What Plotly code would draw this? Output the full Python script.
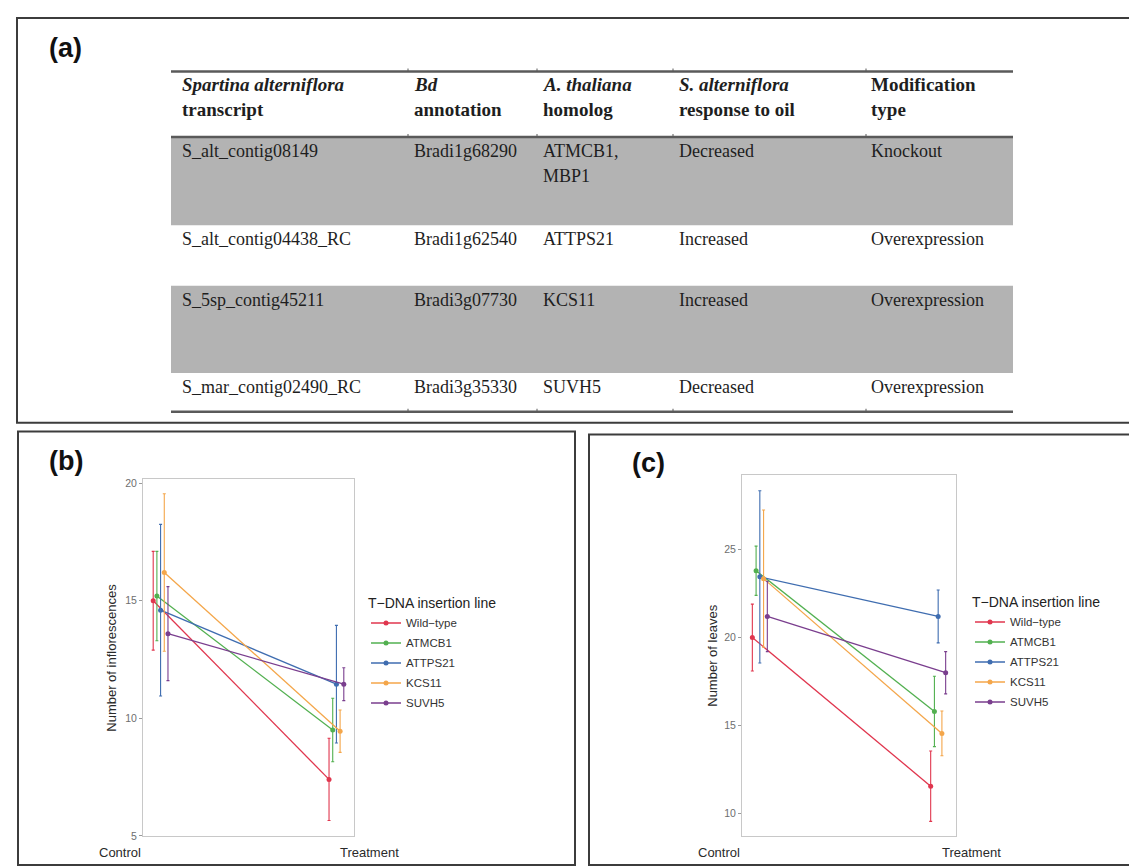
import plotly.graph_objects as go

W, H = 1137, 868


def px(x):
    return x / W


def py(y):
    return 1 - y / H


# ---------------- data ----------------
lines = ["Wild\u2212type", "ATMCB1", "ATTPS21", "KCS11", "SUVH5"]
colors = ["#E0364E", "#52B050", "#3F6DB0", "#F4A64A", "#7A3E8E"]
conditions = ["Control", "Treatment"]
cond_pos = [1, 2]

infl_control = [15.0, 15.2, 14.6, 16.2, 13.6]
infl_control_err = [2.1, 1.9, 3.65, 3.35, 2.0]
infl_treat = [7.4, 9.5, 11.45, 9.45, 11.45]
infl_treat_err = [1.75, 1.35, 2.5, 0.9, 0.7]

leaves_control = [20.0, 23.8, 23.45, 23.35, 21.2]
leaves_control_err = [1.9, 1.4, 4.9, 3.9, 2.0]
leaves_treat = [11.55, 15.8, 21.2, 14.55, 18.0]
leaves_treat_err = [2.0, 2.0, 1.5, 1.27, 1.2]

infl_ticks = [5, 10, 15, 20]
leaves_ticks = [10, 15, 20, 25]

tbl_header_1 = ["<i>Spartina alterniflora</i>", "<i>Bd</i>", "<i>A. thaliana</i>",
                "<i>S. alterniflora</i>", "Modification"]
tbl_header_2 = ["transcript", "annotation", "homolog", "response to oil", "type"]
tbl_transcript = ["S_alt_contig08149", "S_alt_contig04438_RC",
                  "S_5sp_contig45211", "S_mar_contig02490_RC"]
tbl_bd = ["Bradi1g68290", "Bradi1g62540", "Bradi3g07730", "Bradi3g35330"]
tbl_homolog = ["ATMCB1,\nMBP1", "ATTPS21", "KCS11", "SUVH5"]
tbl_response = ["Decreased", "Increased", "Increased", "Decreased"]
tbl_modification = ["Knockout", "Overexpression", "Overexpression", "Overexpression"]

# ---------------- layout geometry ----------------
DODGE = 0.021
panel_b = dict(x0=135, x1=346, y0=473, y1=833)
panel_c = dict(x0=734, x1=948, y0=469, y1=833)

fig = go.Figure()


def add_panel(ctrl, ctrl_err, trt, trt_err, xa, ya, legend):
    for i, name in enumerate(lines):
        off = (i - 2) * DODGE
        fig.add_trace(go.Scatter(
            x=[cond_pos[0] + off, cond_pos[1] + off],
            y=[ctrl[i], trt[i]],
            error_y=dict(type="data", array=[ctrl_err[i], trt_err[i]],
                         visible=True, thickness=1.1, width=1.5, color=colors[i]),
            mode="lines+markers",
            line=dict(color=colors[i], width=1.3),
            marker=dict(color=colors[i], size=5),
            name=name,
            xaxis=xa, yaxis=ya,
            legend=legend,
            legendgroup=legend + name,
            showlegend=True,
        ))


add_panel(infl_control, infl_control_err, infl_treat, infl_treat_err, "x", "y", "legend")
add_panel(leaves_control, leaves_control_err, leaves_treat, leaves_treat_err, "x2", "y2", "legend2")

axis_common = dict(showgrid=False, zeroline=False, showline=True, mirror=True,
                   linecolor="#c8c8c8", linewidth=1)
tickfont = dict(family="Liberation Sans, Arial", size=10.5, color="#6e6e6e")
leg_title_font = dict(family="Liberation Sans, Arial", size=14, color="#222")
leg_font = dict(family="Liberation Sans, Arial", size=11.5, color="#333")

fig.update_layout(
    width=W, height=H, autosize=False,
    margin=dict(l=0, r=0, t=0, b=0),
    paper_bgcolor="white", plot_bgcolor="white",
    xaxis=dict(domain=[px(panel_b["x0"]), px(panel_b["x1"])], range=[0.9, 2.1],
               showticklabels=False, ticks="", **axis_common),
    yaxis=dict(domain=[py(panel_b["y1"]), py(panel_b["y0"])], range=[4.98, 20.17],
               tickvals=infl_ticks, ticks="outside", ticklen=3, tickcolor="#9a9a9a",
               tickfont=tickfont, **axis_common),
    xaxis2=dict(domain=[px(panel_c["x0"]), px(panel_c["x1"])], range=[0.9, 2.1],
                showticklabels=False, ticks="", anchor="y2", **axis_common),
    yaxis2=dict(domain=[py(panel_c["y1"]), py(panel_c["y0"])], range=[8.7, 29.23],
                tickvals=leaves_ticks, ticks="outside", ticklen=3, tickcolor="#9a9a9a",
                tickfont=tickfont, anchor="x2", **axis_common),
    legend=dict(x=px(358), y=py(585), xanchor="left", yanchor="top",
                title=dict(text="T\u2212DNA insertion line", font=leg_title_font),
                font=leg_font, bgcolor="rgba(0,0,0,0)", tracegroupgap=1, itemwidth=30),
    legend2=dict(x=px(962), y=py(584), xanchor="left", yanchor="top",
                 title=dict(text="T\u2212DNA insertion line", font=leg_title_font),
                 font=leg_font, bgcolor="rgba(0,0,0,0)", tracegroupgap=1, itemwidth=30),
)

shapes = []
annotations = []

# panel borders
for (x0, y0, x1, y1) in [(9, 8, 1133, 416), (10, 425, 567, 862), (581, 428, 1135, 862)]:
    shapes.append(dict(type="rect", xref="paper", yref="paper",
                       x0=px(x0), x1=px(x1), y0=py(y1), y1=py(y0),
                       line=dict(color="#3c3c3c", width=2), fillcolor="rgba(0,0,0,0)"))

# panel letters
for txt, x, y in [("(a)", 57, 38), ("(b)", 58, 455), ("(c)", 640, 457)]:
    annotations.append(dict(text="<b>%s</b>" % txt, x=px(x), y=py(y), xref="paper", yref="paper",
                            showarrow=False, xanchor="center", yanchor="middle",
                            font=dict(family="Liberation Sans, Arial", size=27, color="#111")))

# ---------------- table ----------------
T_LEFT, T_RIGHT = 163, 1005
col_edges = [163, 400, 529, 665, 858, 1005]
col_text_x = [172, 404, 533, 669, 861]
row_tops = [128, 217, 278, 366]
row_bottoms = [217, 278, 366, 405]
row_fill = ["#b3b3b3", "white", "#b3b3b3", "white"]
serif = "Liberation Serif, Times New Roman, serif"

for top, bot, fill in zip(row_tops, row_bottoms, row_fill):
    if fill != "white":
        shapes.append(dict(type="rect", xref="paper", yref="paper",
                           x0=px(T_LEFT), x1=px(T_RIGHT), y0=py(bot), y1=py(top),
                           line=dict(width=0), fillcolor=fill, layer="below"))

for ry in [62, 128, 405]:
    shapes.append(dict(type="line", xref="paper", yref="paper",
                       x0=px(T_LEFT), x1=px(T_RIGHT), y0=py(ry), y1=py(ry),
                       line=dict(color="#5a5a5a", width=2.5)))
    for cx in col_edges[1:-1]:
        shapes.append(dict(type="line", xref="paper", yref="paper",
                           x0=px(cx), x1=px(cx), y0=py(ry), y1=py(ry - 3),
                           line=dict(color="#5a5a5a", width=1)))


def cell(text, x, y, bold=False, size=18):
    t = "<b>%s</b>" % text if bold else text
    annotations.append(dict(text=t, x=px(x), y=py(y), xref="paper", yref="paper",
                            showarrow=False, xanchor="left", yanchor="middle",
                            font=dict(family=serif, size=size, color="#1e1e1e")))


for j in range(5):
    cell(tbl_header_1[j], col_text_x[j], 75, bold=True, size=19)
    cell(tbl_header_2[j], col_text_x[j], 100, bold=True, size=19)

columns = [tbl_transcript, tbl_bd, tbl_homolog, tbl_response, tbl_modification]
for r in range(4):
    for j, col in enumerate(columns):
        for k, part in enumerate(col[r].split("\n")):
            cell(part, col_text_x[j], row_tops[r] + 14 + 25 * k)

# ---------------- plot text ----------------
lab_font = dict(family="Liberation Sans, Arial", size=13, color="#2a2a2a")
for (cx_right, tx_left, title, title_x, panel) in [
        (135, 330, "Number of inflorescences", 104, panel_b),
        (734, 932, "Number of leaves", 705, panel_c)]:
    annotations.append(dict(text=conditions[0], x=px(cx_right), y=py(849), xref="paper", yref="paper",
                            showarrow=False, xanchor="right", yanchor="middle", font=lab_font))
    annotations.append(dict(text=conditions[1], x=px(tx_left), y=py(849), xref="paper", yref="paper",
                            showarrow=False, xanchor="left", yanchor="middle", font=lab_font))
    annotations.append(dict(text=title, x=px(title_x), y=py((panel["y0"] + panel["y1"]) / 2),
                            xref="paper", yref="paper", showarrow=False, textangle=-90,
                            xanchor="center", yanchor="middle", font=lab_font))

fig.update_layout(shapes=shapes, annotations=annotations)
fig.write_html("out.html")
